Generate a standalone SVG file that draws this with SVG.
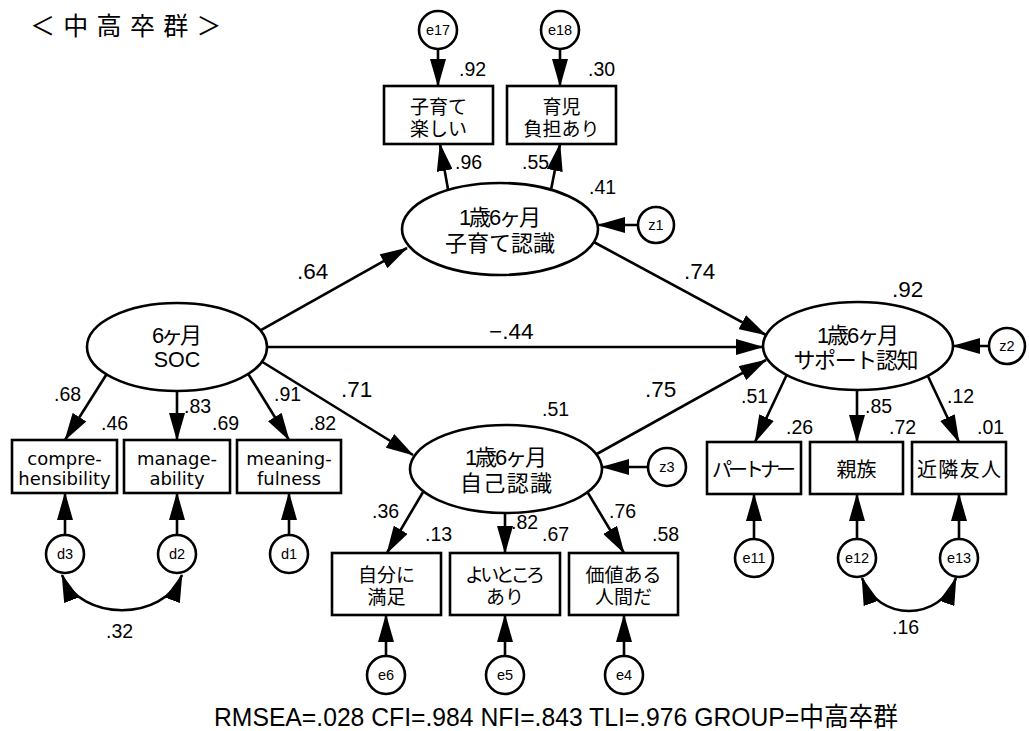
<svg xmlns="http://www.w3.org/2000/svg" width="1029" height="731" viewBox="0 0 1029 731">
  <defs>
    <style>
      .ln { stroke: #000; stroke-width: 2.6; fill: none; }
      .ar { marker-end: url(#ah); }
      .cv { marker-start: url(#ah); marker-end: url(#ah); }
      .nd { fill: #fff; stroke: #000; stroke-width: 2.6; }
      .t  { font-family: "Liberation Sans", "Noto Sans CJK JP", sans-serif; fill: #000; }
      .jp { font-family: "Noto Sans CJK JP", "Liberation Sans", sans-serif; fill: #000; }
      .en { font-family: "DejaVu Sans", "Liberation Sans", sans-serif; font-size: 18px; fill: #000; text-anchor: middle; }
      .c  { text-anchor: middle; }
      .lat { font-size: 22px; }
      .box { font-size: 19px; }
      .err { font-size: 14.5px; }
      .ld { font-size: 19.5px; }
      .pt { font-size: 22.5px; }
    </style>
    <marker id="ah" markerUnits="userSpaceOnUse" viewBox="0 0 28 16" markerWidth="28" markerHeight="16" refX="27" refY="8" orient="auto-start-reverse">
      <path d="M0,0 L28,8 L0,16 z" fill="#000"/>
    </marker>
  </defs>

  <rect width="1029" height="731" fill="#fff"/>

  <!-- group title -->
  <text class="jp" x="30" y="35" font-size="25" letter-spacing="8.3">＜中高卒群＞</text>

  <!-- paths, loadings, error terms and covariances -->
  <g id="connectors">
    <!-- structural paths -->
    <path class="ln ar" d="M245,339 L407,248"/>
    <path class="ln ar" d="M256,358 L413,455"/>
    <path class="ln ar" d="M265,347 L763,347"/>
    <path class="ln ar" d="M590,240 L766,335"/>
    <path class="ln ar" d="M595,455 L766,360"/>
    <!-- loadings -->
    <path class="ln ar" d="M449,195 L440,144"/>
    <path class="ln ar" d="M550,195 L560,144"/>
    <path class="ln ar" d="M108,372 L65,440"/>
    <path class="ln ar" d="M177,385 L177,440"/>
    <path class="ln ar" d="M247,372 L289,440"/>
    <path class="ln ar" d="M426,487 L387,553"/>
    <path class="ln ar" d="M505,508 L505,553"/>
    <path class="ln ar" d="M585,488 L624,553"/>
    <path class="ln ar" d="M789,370 L755,442"/>
    <path class="ln ar" d="M857,385 L857,442"/>
    <path class="ln ar" d="M925,370 L959,442"/>
    <!-- error terms -->
    <path class="ln ar" d="M438,49 L438,86"/>
    <path class="ln ar" d="M560,49 L560,86"/>
    <path class="ln ar" d="M65,535 L65,493"/>
    <path class="ln ar" d="M177,535 L177,493"/>
    <path class="ln ar" d="M289,535 L289,493"/>
    <path class="ln ar" d="M386,656 L386,615"/>
    <path class="ln ar" d="M505,656 L505,615"/>
    <path class="ln ar" d="M624,656 L624,615"/>
    <path class="ln ar" d="M754,539 L754,494"/>
    <path class="ln ar" d="M857,539 L857,494"/>
    <path class="ln ar" d="M959,539 L959,494"/>
    <path class="ln ar" d="M638,225 L598,225"/>
    <path class="ln ar" d="M648,467 L602,467"/>
    <path class="ln ar" d="M989,346 L953,346"/>
    <!-- covariances -->
    <path class="ln cv" d="M62,575 C80,622 164,622 182,575"/>
    <path class="ln cv" d="M862,578 C878,622 940,622 956,578"/>

    <!-- coefficients -->
    <g class="t">
      <text class="ld" x="459" y="76" font-size="20.5">.92</text>
      <text class="ld" x="588" y="76" font-size="20.5">.30</text>
      <text class="ld" x="455" y="169">.96</text>
      <text class="ld" x="522" y="169">.55</text>
      <text class="ld" x="589" y="194" font-size="20.5">.41</text>
      <text class="pt" x="297" y="279">.64</text>
      <text class="pt" x="684" y="279">.74</text>
      <text class="pt" x="489" y="339">−.44</text>
      <text class="pt" x="892" y="297">.92</text>
      <text class="pt" x="341" y="397">.71</text>
      <text class="pt" x="645" y="397">.75</text>
      <text class="ld" x="542" y="416" font-size="20.5">.51</text>
      <text class="ld" x="54" y="401">.68</text>
      <text class="ld" x="101" y="430">.46</text>
      <text class="ld" x="184" y="413">.83</text>
      <text class="ld" x="212" y="430">.69</text>
      <text class="ld" x="274" y="401">.91</text>
      <text class="ld" x="309" y="430">.82</text>
      <text class="ld" x="372" y="518">.36</text>
      <text class="ld" x="425" y="541">.13</text>
      <text class="ld" x="511" y="529">.82</text>
      <text class="ld" x="542" y="541">.67</text>
      <text class="ld" x="609" y="518">.76</text>
      <text class="ld" x="652" y="541">.58</text>
      <text class="ld" x="741" y="403">.51</text>
      <text class="ld" x="786" y="434">.26</text>
      <text class="ld" x="865" y="413">.85</text>
      <text class="ld" x="889" y="434">.72</text>
      <text class="ld" x="947" y="403">.12</text>
      <text class="ld" x="977" y="434">.01</text>
      <text class="ld" x="106" y="638" font-size="20.5">.32</text>
      <text class="ld" x="892" y="634" font-size="20.5">.16</text>
    </g>
  </g>

  <!-- latent variables -->
  <g id="soc6">
    <ellipse class="nd" cx="177" cy="347" rx="90" ry="44"/>
    <text class="t c lat" x="177" y="343" textLength="50">6ヶ月</text>
    <text class="t c" x="177" y="367" font-size="21.5">SOC</text>
  </g>
  <g id="childcare18">
    <ellipse class="nd" cx="500" cy="229" rx="98" ry="46"/>
    <text class="t c lat" x="500" y="225" textLength="82">1歳6ヶ月</text>
    <text class="t c lat" x="500" y="251">子育て認識</text>
  </g>
  <g id="self18">
    <ellipse class="nd" cx="506" cy="469" rx="96" ry="44"/>
    <text class="t c lat" x="506" y="465" textLength="82">1歳6ヶ月</text>
    <text class="t c lat" x="506" y="491" textLength="92">自己認識</text>
  </g>
  <g id="support18">
    <ellipse class="nd" cx="858" cy="346" rx="95" ry="44"/>
    <text class="t c lat" x="858" y="343" textLength="82">1歳6ヶ月</text>
    <text class="t c lat" x="856" y="368" textLength="125">サポート認知</text>
  </g>

  <!-- observed variables -->
  <g id="enjoy">
    <rect class="nd" x="384" y="86" width="109" height="58"/>
    <text class="t c box" x="438.5" y="114">子育て</text>
    <text class="t c box" x="438.5" y="136">楽しい</text>
  </g>
  <g id="burden">
    <rect class="nd" x="507" y="86" width="109" height="58"/>
    <text class="t c box" x="561.5" y="114">育児</text>
    <text class="t c box" x="561.5" y="136">負担あり</text>
  </g>
  <g id="compre">
    <rect class="nd" x="12" y="440" width="105" height="53"/>
    <text class="en" x="64.5" y="465">compre-</text>
    <text class="en" x="64.5" y="485">hensibility</text>
  </g>
  <g id="manage">
    <rect class="nd" x="124" y="440" width="106" height="53"/>
    <text class="en" x="177" y="465">manage-</text>
    <text class="en" x="177" y="485">ability</text>
  </g>
  <g id="meaning">
    <rect class="nd" x="237" y="440" width="104" height="53"/>
    <text class="en" x="289" y="465">meaning-</text>
    <text class="en" x="289" y="485">fulness</text>
  </g>
  <g id="satisfied">
    <rect class="nd" x="332" y="553" width="109" height="62"/>
    <text class="t c box" x="386.5" y="582">自分に</text>
    <text class="t c box" x="386.5" y="604">満足</text>
  </g>
  <g id="goodpoints">
    <rect class="nd" x="450" y="553" width="110" height="62"/>
    <text class="t c box" x="505" y="582" textLength="80">よいところ</text>
    <text class="t c box" x="505" y="604">あり</text>
  </g>
  <g id="worthy">
    <rect class="nd" x="569" y="553" width="109" height="62"/>
    <text class="t c box" x="623.5" y="582">価値ある</text>
    <text class="t c box" x="623.5" y="604">人間だ</text>
  </g>
  <g id="partner">
    <rect class="nd" x="707" y="442" width="94" height="52"/>
    <text class="t c" x="754" y="477" font-size="20" textLength="84">パートナー</text>
  </g>
  <g id="relatives">
    <rect class="nd" x="810" y="442" width="93" height="52"/>
    <text class="t c" x="856.5" y="477" font-size="20">親族</text>
  </g>
  <g id="neighbours">
    <rect class="nd" x="912" y="442" width="94" height="52"/>
    <text class="t c" x="959" y="477" font-size="20" textLength="84">近隣友人</text>
  </g>

  <!-- residuals and disturbances -->
  <g id="e17"><circle class="nd" cx="438" cy="30" r="19"/><text class="t c err" x="438" y="35">e17</text></g>
  <g id="e18"><circle class="nd" cx="560" cy="30" r="19"/><text class="t c err" x="560" y="35">e18</text></g>
  <g id="z1"><circle class="nd" cx="656" cy="225" r="18"/><text class="t c err" x="656" y="230">z1</text></g>
  <g id="z2"><circle class="nd" cx="1007" cy="346" r="18"/><text class="t c err" x="1007" y="351">z2</text></g>
  <g id="z3"><circle class="nd" cx="667" cy="467" r="19"/><text class="t c err" x="667" y="472">z3</text></g>
  <g id="d3"><circle class="nd" cx="65" cy="554" r="19"/><text class="t c err" x="65" y="559">d3</text></g>
  <g id="d2"><circle class="nd" cx="177" cy="554" r="19"/><text class="t c err" x="177" y="559">d2</text></g>
  <g id="d1"><circle class="nd" cx="289" cy="554" r="19"/><text class="t c err" x="289" y="559">d1</text></g>
  <g id="e6"><circle class="nd" cx="386" cy="675" r="19"/><text class="t c err" x="386" y="680">e6</text></g>
  <g id="e5"><circle class="nd" cx="505" cy="675" r="19"/><text class="t c err" x="505" y="680">e5</text></g>
  <g id="e4"><circle class="nd" cx="624" cy="675" r="19"/><text class="t c err" x="624" y="680">e4</text></g>
  <g id="e11"><circle class="nd" cx="754" cy="558" r="19"/><text class="t c err" x="754" y="563">e11</text></g>
  <g id="e12"><circle class="nd" cx="857" cy="558" r="19"/><text class="t c err" x="857" y="563">e12</text></g>
  <g id="e13"><circle class="nd" cx="959" cy="558" r="19"/><text class="t c err" x="959" y="563">e13</text></g>

  <!-- fit indices -->
  <text class="t" x="214" y="726" font-size="26" textLength="684" lengthAdjust="spacingAndGlyphs">RMSEA=.028 CFI=.984 NFI=.843 TLI=.976 GROUP=中高卒群</text>
</svg>
